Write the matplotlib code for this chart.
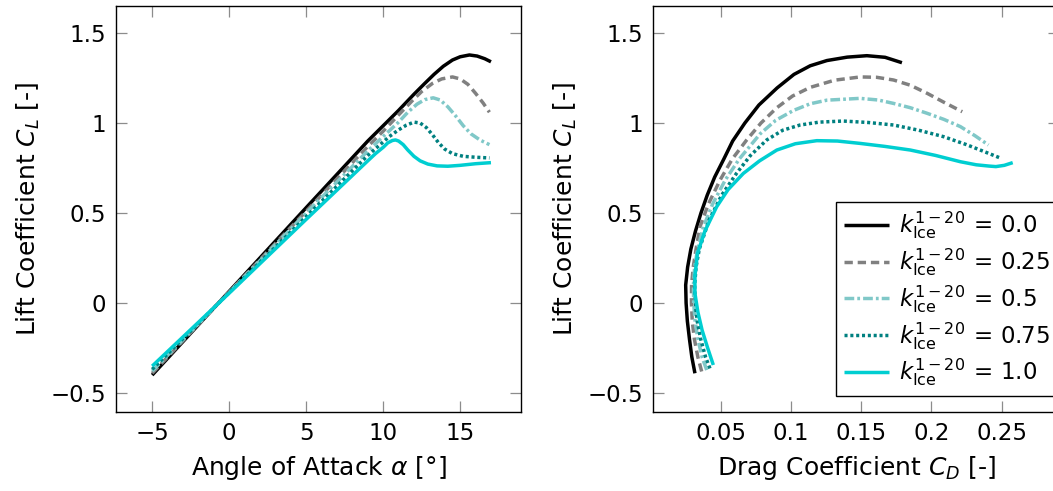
import matplotlib
matplotlib.use("Agg")
import matplotlib.pyplot as plt
from matplotlib.ticker import FixedLocator, FuncFormatter

plt.rcParams['font.family'] = ['DejaVu Sans']
plt.rcParams['mathtext.fontset'] = 'dejavusans'
plt.rcParams['lines.scale_dashes'] = False

# ---------------- data ----------------
labels = [r'$k_{\mathrm{Ice}}^{1-20}\,=\,0.0$', r'$k_{\mathrm{Ice}}^{1-20}\,=\,0.25$',
          r'$k_{\mathrm{Ice}}^{1-20}\,=\,0.5$', r'$k_{\mathrm{Ice}}^{1-20}\,=\,0.75$',
          r'$k_{\mathrm{Ice}}^{1-20}\,=\,1.0$']

# Left: lift coefficient vs angle of attack
alpha_k0 = [-5, 0, 5, 9, 10, 11, 12, 12.7, 13.3, 13.9, 14.5, 15.0, 15.6, 16.1, 16.6, 17.0]
cl_a_k0 = [-0.40, 0.065, 0.53, 0.90, 0.985, 1.07, 1.16, 1.22, 1.27, 1.315, 1.35, 1.368,
           1.378, 1.372, 1.357, 1.34]

alpha_k25 = [-5, 0, 5, 9, 10, 11, 11.9, 12.5, 13.2, 13.8, 14.5, 15.0, 15.5, 16.0, 16.5, 16.9]
cl_a_k25 = [-0.39, 0.062, 0.51, 0.87, 0.955, 1.045, 1.125, 1.175, 1.22, 1.245, 1.256,
            1.245, 1.215, 1.165, 1.11, 1.06]

alpha_k50 = [-5, 0, 5, 9, 10, 11, 11.6, 12.2, 12.7, 13.25, 13.7, 14.2, 14.7, 15.2, 15.7,
             16.3, 16.9]
cl_a_k50 = [-0.378, 0.06, 0.50, 0.845, 0.925, 1.005, 1.06, 1.105, 1.13, 1.14, 1.128,
            1.09, 1.04, 0.985, 0.94, 0.905, 0.88]

alpha_k75 = [-5, 0, 5, 9, 9.8, 10.4, 11.0, 11.5, 12.0, 12.4, 12.8, 13.2, 13.6, 14.0,
             14.5, 15.2, 16.0, 16.9]
cl_a_k75 = [-0.368, 0.058, 0.48, 0.82, 0.88, 0.925, 0.962, 0.988, 1.005, 1.0, 0.975,
            0.935, 0.89, 0.855, 0.83, 0.815, 0.81, 0.806]

alpha_k100 = [-5, 0, 5, 9, 9.5, 10.0, 10.3, 10.6, 10.8, 11.0, 11.3, 11.6, 12.0, 12.4,
              12.9, 13.5, 14.2, 15.0, 16.0, 17.0]
cl_a_k100 = [-0.35, 0.055, 0.465, 0.79, 0.83, 0.865, 0.89, 0.903, 0.906, 0.90, 0.88,
             0.85, 0.815, 0.79, 0.772, 0.762, 0.76, 0.765, 0.774, 0.78]

# Right: lift coefficient vs drag coefficient
cd_k0 = [0.0314, 0.0292, 0.0275, 0.026, 0.0251, 0.0248, 0.0262, 0.0285, 0.0318, 0.0357,
         0.0402, 0.0455, 0.052, 0.0583, 0.067, 0.077, 0.090, 0.102, 0.1136, 0.1255,
         0.140, 0.154, 0.167, 0.179]
cl_d_k0 = [-0.39, -0.3, -0.2, -0.1, 0.0, 0.1, 0.2, 0.3, 0.4, 0.5,
           0.6, 0.7, 0.8, 0.9, 1.0, 1.1, 1.195, 1.27, 1.318, 1.347,
           1.366, 1.374, 1.365, 1.335]

cd_k25 = [0.0362, 0.0335, 0.031, 0.0295, 0.0289, 0.029, 0.0302, 0.0322, 0.035, 0.041,
          0.0493, 0.058, 0.0683, 0.0785, 0.0898, 0.101, 0.1136, 0.131, 0.1493, 0.161,
          0.173, 0.185, 0.197, 0.209, 0.222]
cl_d_k25 = [-0.38, -0.3, -0.2, -0.1, 0.0, 0.1, 0.2, 0.3, 0.424, 0.55,
            0.683, 0.8, 0.906, 1.0, 1.085, 1.15, 1.198, 1.238, 1.256, 1.254,
            1.239, 1.21, 1.165, 1.115, 1.063]

cd_k50 = [0.0398, 0.0365, 0.0335, 0.0315, 0.0305, 0.0303, 0.0312, 0.0333, 0.0375, 0.044,
          0.053, 0.063, 0.0779, 0.089, 0.1017, 0.1136, 0.1255, 0.149, 0.162, 0.173,
          0.185, 0.197, 0.209, 0.2207, 0.231, 0.2407]
cl_d_k50 = [-0.372, -0.3, -0.2, -0.1, 0.0, 0.1, 0.2, 0.3, 0.424, 0.55,
            0.683, 0.8, 0.94, 1.015, 1.07, 1.107, 1.127, 1.137, 1.128, 1.109,
            1.085, 1.054, 1.02, 0.98, 0.93, 0.878]

cd_k75 = [0.0421, 0.039, 0.0355, 0.033, 0.0316, 0.0312, 0.0322, 0.0345, 0.0415, 0.0505,
          0.061, 0.071, 0.0826, 0.094, 0.1064, 0.120, 0.137, 0.155, 0.173, 0.191,
          0.2088, 0.225, 0.241, 0.249]
cl_d_k75 = [-0.363, -0.3, -0.2, -0.1, 0.0, 0.1, 0.2, 0.3, 0.461, 0.6,
            0.72, 0.82, 0.906, 0.96, 0.989, 1.005, 1.011, 1.003, 0.989, 0.96,
            0.924, 0.88, 0.831, 0.806]

cd_k100 = [0.0445, 0.0405, 0.0365, 0.0335, 0.0314, 0.0314, 0.0332, 0.0385, 0.0469, 0.055,
           0.0659, 0.0775, 0.0898, 0.103, 0.1183, 0.133, 0.149, 0.167, 0.185, 0.203,
           0.2207, 0.232, 0.241, 0.246, 0.252, 0.258]
cl_d_k100 = [-0.344, -0.25, -0.15, -0.05, 0.054, 0.15, 0.276, 0.4, 0.535, 0.63,
             0.72, 0.79, 0.85, 0.885, 0.902, 0.90, 0.887, 0.87, 0.85, 0.82,
             0.785, 0.768, 0.761, 0.758, 0.765, 0.78]

alpha_ticks = [-5, 0, 5, 10, 15]
cd_ticks = [0.05, 0.1, 0.15, 0.2, 0.25]
cl_ticks = [-0.5, 0, 0.5, 1, 1.5]

# ---------------- styles ----------------
colors = ['#000000', '#808080', '#80c8c8', '#008080', '#00ced1']
dashes = [None, (6, 3.5), (7, 2.2, 2, 2.2), (2.2, 2.0), None]
lw = 2.5
FS = 16.5
LFS = 18

fig = plt.figure(figsize=(10.53, 4.91), dpi=100)
axL = fig.add_axes([116 / 1053, 79 / 491, 405 / 1053, 406 / 491])
axR = fig.add_axes([653 / 1053, 79 / 491, 406 / 1053, 406 / 491])

left_data = [(alpha_k0, cl_a_k0), (alpha_k25, cl_a_k25), (alpha_k50, cl_a_k50),
             (alpha_k75, cl_a_k75), (alpha_k100, cl_a_k100)]
right_data = [(cd_k0, cl_d_k0), (cd_k25, cl_d_k25), (cd_k50, cl_d_k50),
              (cd_k75, cl_d_k75), (cd_k100, cl_d_k100)]


def draw(ax, data):
    handles = []
    for (x, y), c, d, lab in zip(data, colors, dashes, labels):
        ln, = ax.plot(x, y, color=c, lw=lw, label=lab, solid_capstyle='butt',
                      solid_joinstyle='round', dash_capstyle='butt')
        if d is not None:
            ln.set_dashes(d)
        handles.append(ln)
    return handles


draw(axL, left_data)
handles = draw(axR, right_data)


def fmt(v, p):
    s = f'{v:g}'
    return s.replace('-', '\u2212')


for ax in (axL, axR):
    ax.set_ylim(-0.605, 1.65)
    ax.yaxis.set_major_locator(FixedLocator(cl_ticks))
    ax.yaxis.set_major_formatter(FuncFormatter(fmt))
    ax.tick_params(direction='in', length=8, width=0.9, color='#8c8c8c',
                   top=True, right=True, labelsize=FS, pad=7)
    for s in ax.spines.values():
        s.set_linewidth(1.0)
    ax.set_ylabel(r'Lift Coefficient $C_L$ [-]', fontsize=LFS, labelpad=6)

axL.set_xlim(-7.35, 18.95)
axL.xaxis.set_major_locator(FixedLocator(alpha_ticks))
axL.xaxis.set_major_formatter(FuncFormatter(fmt))
axL.set_xlabel(r'Angle of Attack $\alpha$ [°]', fontsize=LFS, labelpad=7)

axR.set_xlim(0.0015, 0.291)
axR.xaxis.set_major_locator(FixedLocator(cd_ticks))
axR.xaxis.set_major_formatter(FuncFormatter(fmt))
axR.set_xlabel(r'Drag Coefficient $C_D$ [-]', fontsize=LFS, labelpad=7)

leg = axR.legend(handles=handles, loc='upper left', bbox_to_anchor=(0.451, 0.518),
                 fontsize=FS, frameon=True, fancybox=False, edgecolor='black',
                 framealpha=1, handlelength=1.95, labelspacing=0.22,
                 borderpad=0.35, handletextpad=0.45, borderaxespad=0)
leg.get_frame().set_linewidth(1.0)

fig.savefig('out.png', dpi=100)
